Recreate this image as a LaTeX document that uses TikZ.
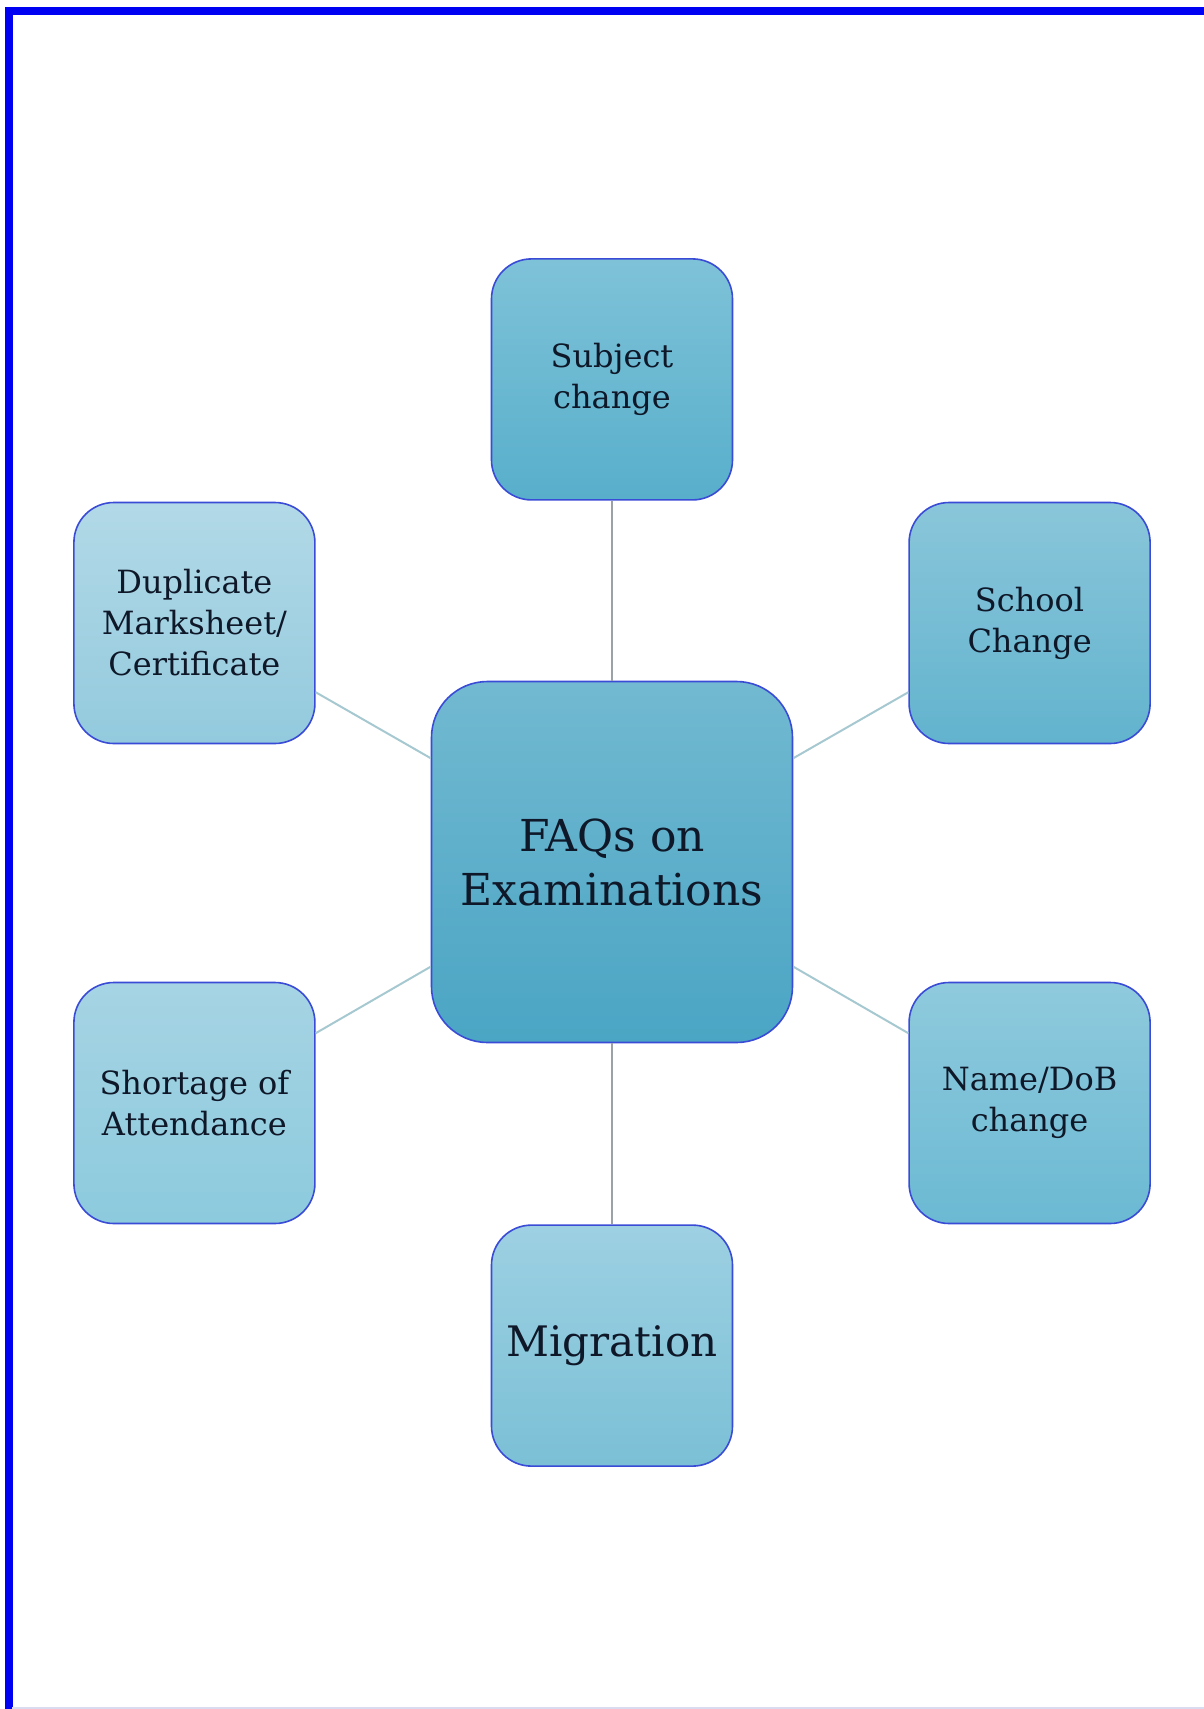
\documentclass[tikz,border=0pt]{standalone}
\usepackage{fontspec}
\setmainfont{DejaVu Serif}
\usetikzlibrary{positioning}
\definecolor{frameblue}{HTML}{0000F2}
\definecolor{framelilac}{HTML}{DADAF0}
\definecolor{boxedge}{HTML}{3A4CD6}
\definecolor{inkdark}{HTML}{0E1828}
\definecolor{spokegray}{HTML}{9AA2A8}
\definecolor{spokeblue}{HTML}{A6C8D0}
\definecolor{HubTop}{HTML}{72B9D1}
\definecolor{HubBot}{HTML}{4AA5C4}
\definecolor{SubTop}{HTML}{7EC2D8}
\definecolor{SubBot}{HTML}{58AFCB}
\definecolor{SchTop}{HTML}{8AC6DA}
\definecolor{SchBot}{HTML}{62B3CE}
\definecolor{NamTop}{HTML}{8FCADD}
\definecolor{NamBot}{HTML}{6BB9D3}
\definecolor{MigTop}{HTML}{9DD0E2}
\definecolor{MigBot}{HTML}{7BC0D6}
\definecolor{ShoTop}{HTML}{A6D4E4}
\definecolor{ShoBot}{HTML}{8CCADD}
\definecolor{DupTop}{HTML}{B2D9E7}
\definecolor{DupBot}{HTML}{93CADD}
\tikzstyle{topic} = [rectangle, rounded corners=20pt, minimum width=120.5pt, minimum height=120.5pt, align=center, draw=boxedge, line width=0.8pt, text=inkdark, font=\fontsize{16}{20.5}\selectfont]
\tikzstyle{hub} = [topic, rounded corners=28pt, minimum width=180.5pt, minimum height=180.5pt, font=\fontsize{22}{27}\selectfont]
\tikzstyle{spoke} = [line width=1pt, draw=spokegray]
\tikzstyle{slant} = [line width=1pt, draw=spokeblue]

\begin{document}
\begin{tikzpicture}[x=0.5pt, y=-0.5pt]
  \useasboundingbox (0,0) rectangle (1204,1709);

  % Page frame
  \draw [frameblue, line width=4pt] (1230,11) -- (8.5,11) -- (8.5,1730);
  \draw [framelilac, line width=1pt] (12,1708) -- (1204,1708);

  % Centre node
  \node (hub) [hub, top color=HubTop, bottom color=HubBot] at (612,862) {FAQs on\\Examinations};

  % Topics around the centre
  \node (subject) [topic, above=90pt of hub, top color=SubTop, bottom color=SubBot] {Subject\\change};
  \node (migration) [topic, below=90.5pt of hub, top color=MigTop, bottom color=MigBot] {\fontsize{21}{26}\selectfont Migration};
  \node (duplicate) [topic, left=57.5pt of hub, yshift=119.5pt, top color=DupTop, bottom color=DupBot] {Duplicate\\Marksheet/\\Certificate};
  \node (school) [topic, right=57.5pt of hub, yshift=119.5pt, top color=SchTop, bottom color=SchBot] {School\\Change};
  \node (shortage) [topic, left=57.5pt of hub, yshift=-120.5pt, top color=ShoTop, bottom color=ShoBot] {Shortage of\\Attendance};
  \node (namedob) [topic, right=57.5pt of hub, yshift=-120.5pt, top color=NamTop, bottom color=NamBot] {Name/DoB\\change};

  % Connectors
  \draw [spoke] (hub) -- (subject);
  \draw [spoke] (hub) -- (migration);
  \draw [slant] (hub) -- (duplicate);
  \draw [slant] (hub) -- (school);
  \draw [slant] (hub) -- (shortage);
  \draw [slant] (hub) -- (namedob);

  \end{tikzpicture}
\end{document}
